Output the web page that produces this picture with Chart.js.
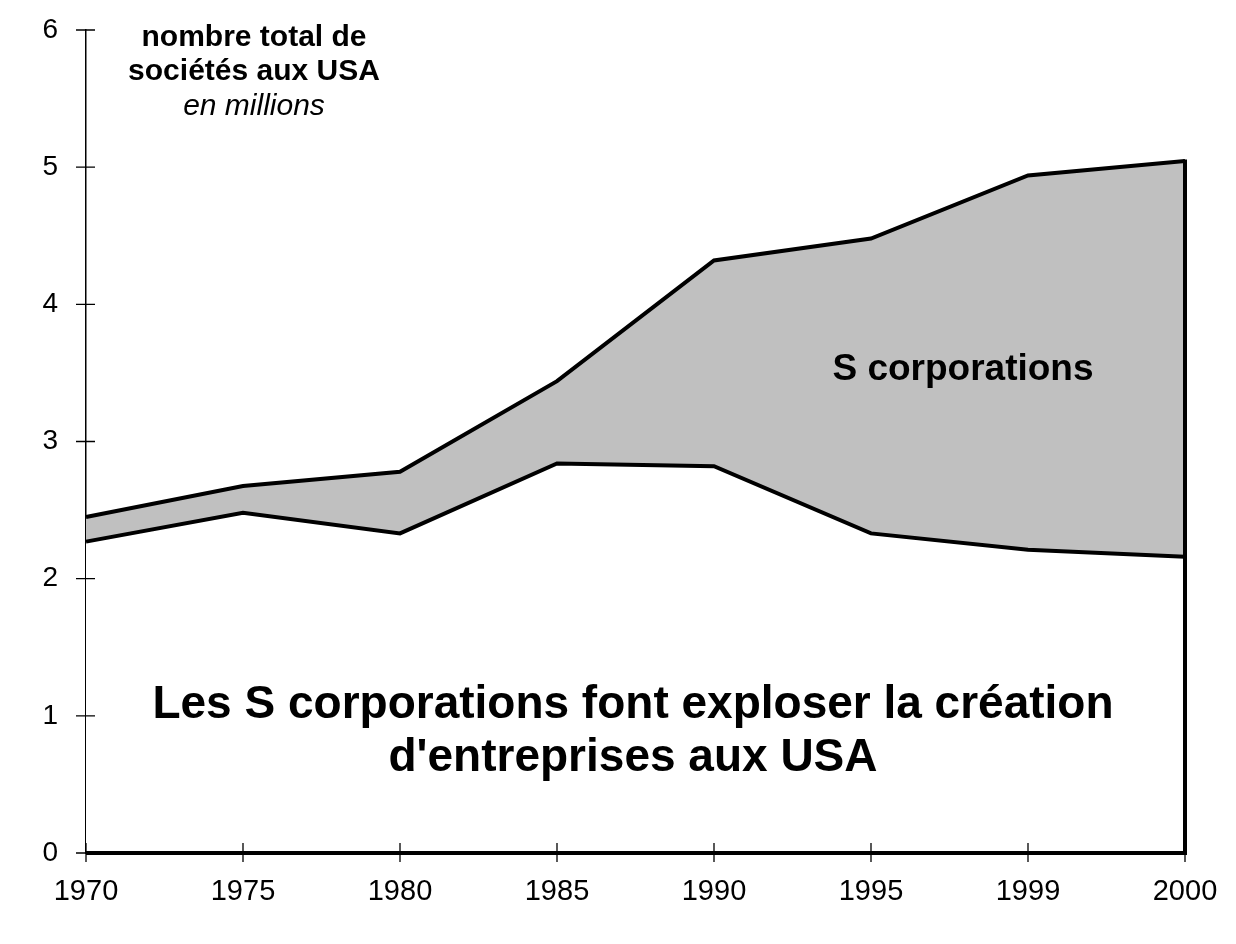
<!DOCTYPE html>
<html>
<head>
<meta charset="utf-8">
<script src="https://cdn.jsdelivr.net/npm/chart.js@4/dist/chart.umd.min.js"></script>
<style>
  html, body { margin: 0; padding: 0; background: #ffffff; }
  #wrap { width: 1236px; height: 944px; }
</style>
</head>
<body>
<div id="wrap"><canvas id="c" width="1236" height="944"></canvas></div>
<script>
const years = ['1970', '1975', '1980', '1985', '1990', '1995', '1999', '2000'];
const otherCorporations = [2.27, 2.48, 2.33, 2.84, 2.82, 2.33, 2.21, 2.16];
const totalCorporations = [2.45, 2.675, 2.78, 3.44, 4.32, 4.48, 4.94, 5.045];
const yTicks = [0, 1, 2, 3, 4, 5, 6];

const FONT = '"Liberation Sans", Arial, sans-serif';

const decorPlugin = {
  id: 'decor',
  afterDatasetsDraw(chart) {
    const ctx = chart.ctx;
    const xs = chart.scales.x, ys = chart.scales.y;
    const last = years.length - 1;
    const a = chart.chartArea;
    ctx.save();
    ctx.strokeStyle = '#000';
    ctx.lineCap = 'butt';
    // bottom edge of the areas (thick base line)
    const yb = ys.getPixelForValue(0);
    const xl = xs.getPixelForValue(0);
    const xr = xs.getPixelForValue(last);
    ctx.lineWidth = 4;
    ctx.beginPath();
    ctx.moveTo(xl, yb);
    ctx.lineTo(xr + 2, yb);
    ctx.stroke();
    // right edge of the areas
    ctx.beginPath();
    ctx.moveTo(xr, ys.getPixelForValue(totalCorporations[last]) - 1.5);
    ctx.lineTo(xr, yb + 2);
    ctx.stroke();
    // crossing ticks
    ctx.lineWidth = 1.3;
    ctx.beginPath();
    yTicks.forEach(v => {
      const y = ys.getPixelForValue(v);
      ctx.moveTo(a.left - 10, y);
      ctx.lineTo(a.left + 9, y);
    });
    years.forEach((_, i) => {
      const x = xs.getPixelForValue(i);
      ctx.moveTo(x, yb - 10);
      ctx.lineTo(x, yb + 9);
    });
    ctx.stroke();
    // annotations
    ctx.fillStyle = '#000';
    ctx.textAlign = 'center';
    ctx.textBaseline = 'middle';
    ctx.font = 'bold 30px ' + FONT;
    ctx.fillText('nombre total de', 254, 38);
    ctx.fillText('sociétés aux USA', 254, 72);
    ctx.font = 'italic 30px ' + FONT;
    ctx.fillText('en millions', 254, 107);
    ctx.font = 'bold 37px ' + FONT;
    ctx.fillText('S corporations', 963, 370);
    ctx.font = 'bold 46px ' + FONT;
    ctx.fillText('Les S corporations font exploser la création', 633, 705);
    ctx.fillText("d'entreprises aux USA", 633, 758);
    ctx.restore();
  }
};

new Chart(document.getElementById('c'), {
  type: 'line',
  data: {
    labels: years,
    datasets: [
      {
        label: 'Autres sociétés',
        data: otherCorporations,
        borderColor: '#000000',
        backgroundColor: '#ffffff',
        borderWidth: 4,
        fill: 'origin',
        pointRadius: 0,
        tension: 0,
        borderJoinStyle: 'miter'
      },
      {
        label: 'S corporations',
        data: totalCorporations,
        borderColor: '#000000',
        backgroundColor: '#c0c0c0',
        borderWidth: 4,
        fill: '-1',
        pointRadius: 0,
        tension: 0,
        borderJoinStyle: 'miter'
      }
    ]
  },
  options: {
    responsive: false,
    animation: false,
    devicePixelRatio: 1,
    layout: { padding: { top: 30, right: 51, left: 0, bottom: 0 } },
    plugins: {
      legend: { display: false },
      title: { display: false },
      tooltip: { enabled: false }
    },
    scales: {
      x: {
        type: 'category',
        offset: false,
        grid: { display: true, drawOnChartArea: false, drawTicks: true, tickLength: 6, color: 'rgba(0,0,0,0)' },
        border: { display: false },
        ticks: {
          color: '#000',
          font: { family: FONT, size: 29 },
          padding: 16,
          maxRotation: 0,
          autoSkip: false
        },
        afterFit(scale) { scale.height = 91; }
      },
      y: {
        min: 0,
        max: 6,
        grid: { display: true, drawOnChartArea: false, drawTicks: true, tickLength: 16, color: 'rgba(0,0,0,0)' },
        border: { display: true, color: '#000', width: 1.5 },
        ticks: {
          color: '#000',
          stepSize: 1,
          font: { family: FONT, size: 28 },
          padding: 12
        },
        afterFit(scale) { scale.width = 86; }
      }
    }
  },
  plugins: [decorPlugin]
});
</script>
</body>
</html>
